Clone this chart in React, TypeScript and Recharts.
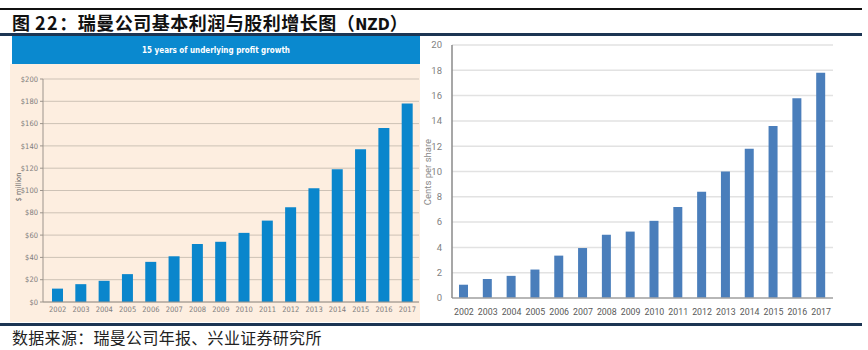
import { BarChart, Bar, XAxis, YAxis, CartesianGrid } from 'recharts'

const years = ['2002', '2003', '2004', '2005', '2006', '2007', '2008', '2009', '2010', '2011', '2012', '2013', '2014', '2015', '2016', '2017']
// underlying profit, $ million
const profit = [12, 16, 19, 25, 36, 41, 52, 54, 62, 73, 85, 102, 119, 137, 156, 178]
// dividend, cents per share
const dividend = [1.05, 1.5, 1.75, 2.25, 3.35, 3.95, 5.0, 5.25, 6.1, 7.2, 8.4, 10.0, 11.8, 13.6, 15.8, 17.8]
const profitTicks = [0, 20, 40, 60, 80, 100, 120, 140, 160, 180, 200]
const dividendTicks = [0, 2, 4, 6, 8, 10, 12, 14, 16, 18, 20]

const SOURCE = '数据来源：瑞曼公司年报、兴业证券研究所'

const profitData = years.map((y, i) => ({ year: y, value: profit[i] }))
const dividendData = years.map((y, i) => ({ year: y, value: dividend[i] }))

const NAVY = '#1c3553'
const narrow = '"Liberation Sans Narrow", "DejaVu Sans Condensed", "Liberation Sans", sans-serif'
const cjk = '"Noto Sans CJK SC", sans-serif'

export default function App() {
  return (
    <div style={{ position: 'absolute', left: 0, top: 0, width: 868, height: 350, background: '#fff', overflow: 'hidden' }}>
      {/* rules */}
      <div style={{ position: 'absolute', left: 0, top: 8, width: 862, height: 2, background: '#111' }} />
      <div style={{ position: 'absolute', left: 0, top: 33, width: 862, height: 3, background: NAVY }} />
      <div style={{ position: 'absolute', left: 0, top: 323, width: 862, height: 3, background: NAVY }} />

      {/* title, pieced so the spacing follows the original */}
      <div style={{ position: 'absolute', left: 12, top: 10, fontFamily: cjk, fontWeight: 700, fontSize: 18, lineHeight: '24px', color: '#111', whiteSpace: 'nowrap' }}>
        <span>图</span>
        <span style={{ marginLeft: 5, letterSpacing: 1.5 }}>22</span>
        <span style={{ letterSpacing: 0.5 }}>：瑞曼公司基本利润与股利增长图（</span>
        <span style={{ fontFamily: narrow, fontSize: 16 }}>NZD</span>
        <span>）</span>
      </div>

      {/* left panel */}
      <div style={{ position: 'absolute', left: 12, top: 36, width: 408, height: 28, background: '#0a89cf' }} />
      <div style={{ position: 'absolute', left: 12, top: 36, width: 408, height: 28, display: 'flex', alignItems: 'center', justifyContent: 'center', color: '#fff', fontFamily: narrow, fontWeight: 700, fontSize: 8 }}>
        15 years of underlying profit growth
      </div>
      <div style={{ position: 'absolute', left: 10, top: 64, width: 410, height: 258, background: '#fdeee0' }} />
      <div style={{ position: 'absolute', left: 18, top: 187, transform: 'translate(-50%, -50%) rotate(-90deg)', fontFamily: narrow, fontSize: 7.5, color: '#666', whiteSpace: 'nowrap' }}>
        $ million
      </div>
      <div style={{ position: 'absolute', left: 12, top: 64 }}>
        <BarChart width={408} height={258} data={profitData} margin={{ top: 15, right: 1, bottom: 6, left: 6 }}>
          <CartesianGrid vertical={false} stroke="#cdc2b6" strokeWidth={1} />
          <XAxis
            dataKey="year"
            height={14}
            padding={{ left: 3, right: 0 }}
            interval={0}
            tickLine={false}
            tickSize={0}
            tickMargin={5}
            axisLine={{ stroke: '#9c948c' }}
            tick={{ fontSize: 7.5, fill: '#7d7d7d', fontFamily: narrow }}
          />
          <YAxis
            width={25}
            domain={[0, 200]}
            ticks={profitTicks}
            interval={0}
            tickFormatter={(v) => `$${v}`}
            tickSize={3}
            tickMargin={2}
            tickLine={{ stroke: '#9c948c' }}
            axisLine={{ stroke: '#9c948c' }}
            tick={{ fontSize: 7.5, fill: '#7d7d7d', fontFamily: narrow }}
          />
          <Bar dataKey="value" fill="#0a86cc" barSize={11} isAnimationActive={false} />
        </BarChart>
      </div>

      {/* right panel */}
      <div style={{ position: 'absolute', left: 427, top: 172, transform: 'translate(-50%, -50%) rotate(-90deg)', fontFamily: 'Roboto, sans-serif', fontSize: 9.5, color: '#8a8a8a', whiteSpace: 'nowrap' }}>
        Cents per share
      </div>
      <div style={{ position: 'absolute', left: 418, top: 36 }}>
        <BarChart width={430} height={290} data={dividendData} margin={{ top: 9, right: 15, bottom: 6, left: 4 }}>
          <CartesianGrid vertical={false} stroke="#e2e2e2" strokeWidth={1.5} />
          <XAxis
            dataKey="year"
            height={22}
            interval={0}
            tickLine={false}
            tickSize={0}
            tickMargin={11}
            axisLine={{ stroke: '#a6a6a6', strokeWidth: 1.5 }}
            tick={{ fontSize: 8.8, fill: '#595959', fontFamily: 'Roboto, sans-serif' }}
          />
          <YAxis
            width={30}
            domain={[0, 20]}
            ticks={dividendTicks}
            interval={0}
            tickLine={false}
            tickSize={0}
            tickMargin={10}
            axisLine={{ stroke: '#8a8a8a', strokeWidth: 1.5 }}
            tick={{ fontSize: 9.5, fill: '#7f7f7f', fontFamily: 'Roboto, sans-serif' }}
          />
          <Bar dataKey="value" fill="#4a7ebb" barSize={9} isAnimationActive={false} />
        </BarChart>
      </div>

      <div style={{ position: 'absolute', left: 12, top: 327, fontFamily: cjk, fontSize: 16, lineHeight: '20px', letterSpacing: 0.3, color: '#222', whiteSpace: 'nowrap' }}>
        {SOURCE}
      </div>
    </div>
  )
}
